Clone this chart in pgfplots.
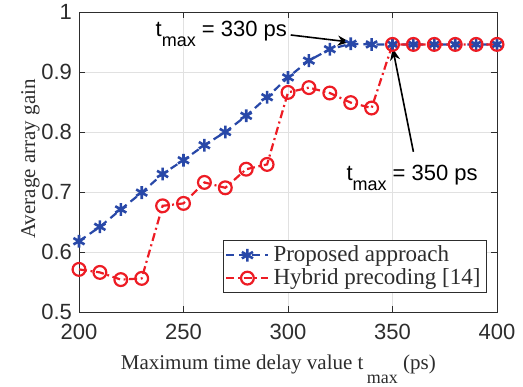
\documentclass[border=0pt]{standalone}
\usepackage{fontspec}
\setmainfont{Liberation Serif}
\setsansfont{Liberation Sans}
\usepackage{pgfplots}
\pgfplotsset{compat=1.18}
\usetikzlibrary{arrows.meta}
\definecolor{myblue}{RGB}{40,72,168}
\definecolor{myred}{RGB}{237,28,36}
\definecolor{axgray}{RGB}{45,45,45}
\definecolor{gridgray}{RGB}{225,225,225}
\newcommand{\sub}[2]{\raisebox{#2}{\fontsize{9}{9}\selectfont #1}}
\begin{document}
\begin{tikzpicture}
\begin{axis}[
  scale only axis, width=209pt, height=150pt,
  xmin=200, xmax=400, ymin=0.5, ymax=1,
  xtick={200,250,300,350,400},
  ytick={0.5,0.6,0.7,0.8,0.9,1},
  grid=major, grid style={gridgray, line width=0.4pt},
  axis line style={axgray, line width=0.5pt},
  tick style={axgray, line width=0.5pt},
  tick align=inside, major tick length=3pt,
  /pgf/number format/assume math mode=true,
  ticklabel style={font=\sffamily\fontsize{11}{13}\selectfont, text=axgray},
  xticklabel style={yshift=-2.5pt},
  xlabel={Maximum time delay value t\,\sub{max}{-7pt} (ps)},
  ylabel={Average array gain},
  label style={font=\fontsize{10.5}{12}\selectfont, text=axgray},
  xlabel style={at={(axis description cs:0.477,-0.19)}, anchor=base},
  ylabel style={at={(axis description cs:-0.105,0.51)}, anchor=base},
  legend style={at={(0.976,0.063)}, anchor=south east, draw=axgray, line width=0.5pt,
    font=\fontsize{11.5}{13}\selectfont, text=axgray, inner xsep=1pt, inner ysep=0.5pt,
    row sep=-2pt},
  legend cell align=left,
  legend image code/.code={\draw[mark repeat=2,mark phase=2,#1] plot coordinates {(0pt,0pt)(10.5pt,0pt)(21pt,0pt)};},
  clip=false,
]
\addplot[myblue, line width=1.1pt, dash pattern=on 4pt off 2.5pt, mark=asterisk, mark size=3.2pt,
  mark options={solid, line width=1.3pt}] coordinates {
(200,0.618)(210,0.642)(220,0.671)(230,0.699)(240,0.730)(250,0.753)(260,0.778)(270,0.800)
(280,0.827)(290,0.858)(300,0.891)(310,0.919)(320,0.938)(330,0.947)(340,0.946)(350,0.946)
(360,0.946)(370,0.946)(380,0.946)(390,0.946)(400,0.946)};
\addlegendentry{Proposed approach}
\addplot[myred, line width=1.1pt, dash pattern=on 4pt off 1.8pt on 1pt off 1.8pt, mark=o, mark size=3.2pt,
  mark options={solid, line width=1.1pt}] coordinates {
(200,0.571)(210,0.566)(220,0.554)(230,0.556)(240,0.677)(250,0.681)(260,0.716)(270,0.707)
(280,0.738)(290,0.746)(300,0.866)(310,0.874)(320,0.865)(330,0.849)(340,0.840)(350,0.946)
(360,0.946)(370,0.946)(380,0.946)(390,0.946)(400,0.946)};
\addlegendentry{Hybrid precoding [14]}
\node[anchor=base east, inner sep=0pt, font=\sffamily\fontsize{11}{12}\selectfont]
  at (axis cs:299.7,0.9588) {t\sub{max}{-5pt} = 330 ps};
\node[anchor=base west, inner sep=0pt, font=\sffamily\fontsize{11}{12}\selectfont]
  at (axis cs:327.8,0.72) {t\sub{max}{-5pt} = 350 ps};
\draw[-{Stealth[length=6pt,width=5pt]}, line width=0.8pt] (axis cs:301.3,0.9617) -- (axis cs:329.5,0.950);
\draw[-{Stealth[length=6pt,width=5pt]}, line width=0.8pt] (axis cs:360.0,0.767) -- (axis cs:350.1,0.9395);
\end{axis}
\pgfresetboundingbox
\useasboundingbox (-39.5pt,-37pt) rectangle (222pt,156pt);
\end{tikzpicture}
\end{document}
